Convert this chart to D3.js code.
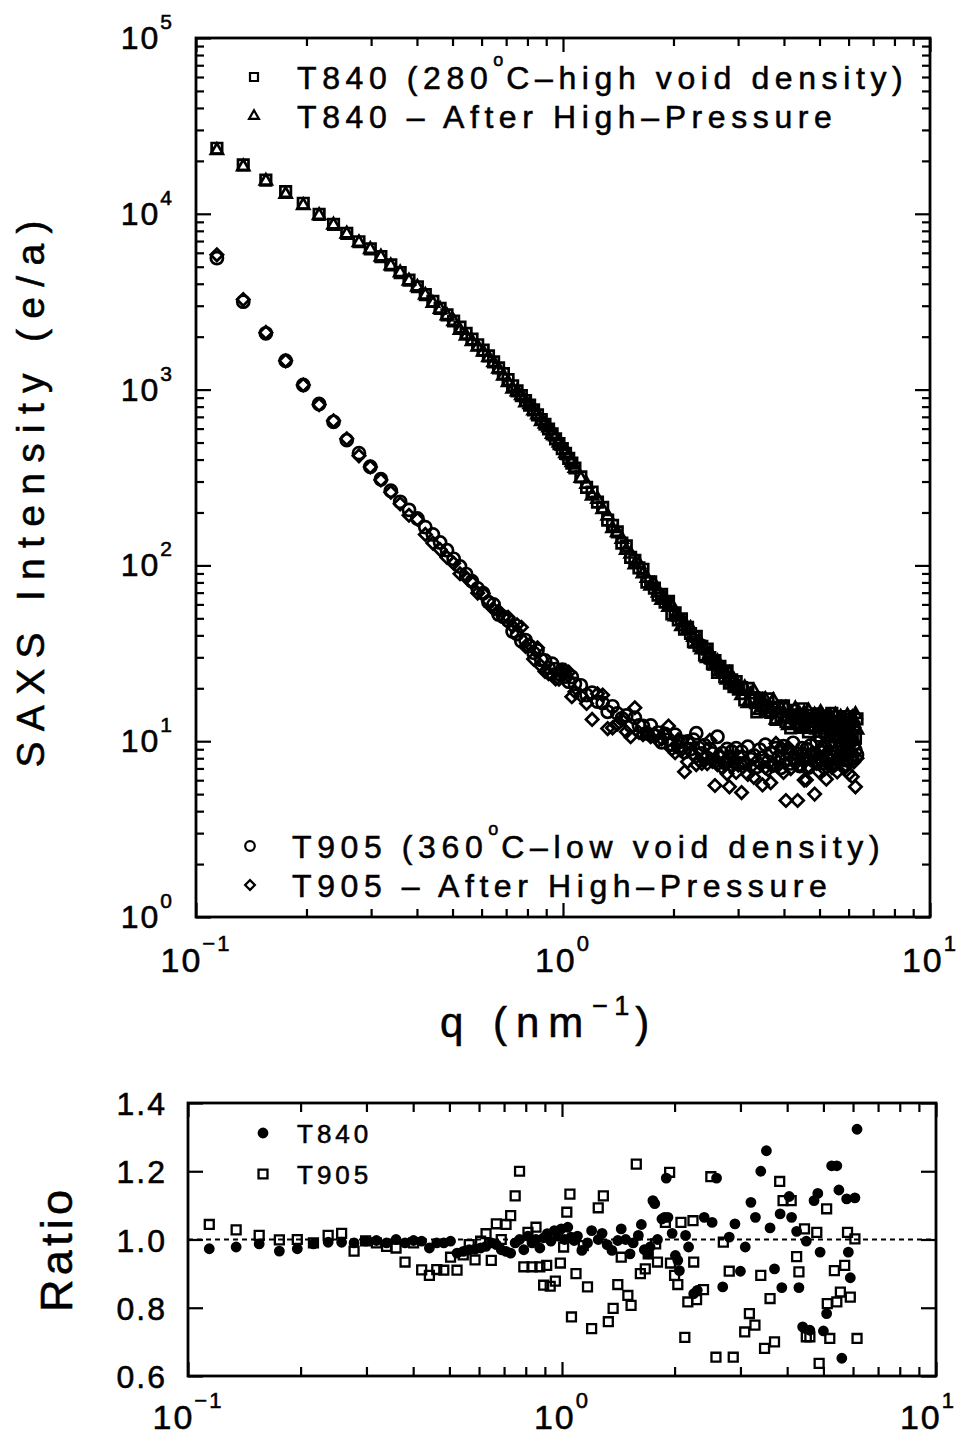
<!DOCTYPE html>
<html><head><meta charset="utf-8">
<script src="https://cdn.jsdelivr.net/npm/d3@7"></script>
<style>
body{margin:0;background:#fff}
svg{display:block;background:#fff}
text{font-family:"Liberation Sans",Arial,Helvetica,sans-serif;fill:#000;stroke:#000;stroke-width:0.55px}
</style>
</head><body>
<svg id="c" width="959" height="1436"></svg>
<script>
// ---------------- DATA ----------------
const qTop = [0.114,0.1345,0.155,0.1755,0.196,0.2165,0.237,0.2575,0.278,0.2985,
0.319,0.3395,0.36,0.3805,0.401,0.4215,0.442,0.4625,0.483,0.5035,
0.524,0.5445,0.565,0.5855,0.606,0.6265,0.647,0.6675,0.688,0.7085,
0.729,0.7495,0.77,0.7905,0.811,0.8315,0.852,0.8725,0.893,0.9135,
0.934,0.9545,0.975,0.9955,1.016,1.0365,1.057,1.0775,
1.1185,1.1595,1.2005,1.2415,1.2825,1.3235,1.3645,1.4055,1.4465,1.4875,
1.5285,1.5695,1.6105,1.6515,1.6925,1.7335,1.7745,1.8155,1.8565,1.8975,
1.9385,1.9795,2.0205,2.0615,2.1025,2.1435,2.1845,2.2255,2.2665,2.3075,
2.3485,2.3895,2.4305,2.4715,2.5125,2.5535,2.5945,2.6355,2.6765,2.7175,
2.7585,2.7995,2.8405,2.8815,2.9225,2.9635,3.0045,
3.066,3.1275,3.189,3.2505,3.312,3.3735,3.435,3.4965,3.558,3.6195,
3.681,3.7425,3.804,3.8655,3.927,3.9885,4.05,4.1115,4.173,4.2345,
4.296,4.3575,4.419,4.4805,4.542,4.6035,4.665,4.7265,4.788,4.8495,
4.911,4.9725,5.034,5.0955,5.157,5.2185,5.28,5.3415,5.403,5.4645,
5.526,5.5875,5.649,5.7105,5.772,5.8335,5.895,5.9565,6.018,6.0795,
6.141,6.2025,6.264,6.3255];

// T840 (280C - high void density), squares
const t840 = [23600,18970,15560,13370,11480,9931,8710,7745,6934,6310,5702,5117,4624,4198,3846,3467,3177,2897,2661,2455,2265,2089,1936,1799,1679,1556,1439,1330,1233,1140,1052,984,925,867,815,766,719,676,635,597,560,525,493,462,434,406,382,358,
319,278,261,229,214,181,169,155,134,129,111,107,96.7,95.1,80.4,80.5,74.3,67.7,68.5,61.8,62.5,52.9,53.8,48.9,49.7,43.4,44.4,41.0,36.8,39.5,34.9,34.6,30.9,33.4,29.9,27.6,28.7,24.6,26.7,24.7,23.2,25.1,21.4,22.3,20.4,21.8,19.8,
20.2,17.2,20.0,17.2,17.7,14.7,17.6,16.0,14.8,17.4,14.6,15.6,13.3,15.6,14.0,15.9,12.9,14.0,11.9,15.0,13.4,14.1,12.2,15.3,12.5,13.5,11.3,14.0,12.9,12.0,14.3,12.3,10.7,13.4,13.9,11.3,12.8,11.8,14.4,10.8,12.8,12.0,13.8,10.4,12.9,11.3,13.3,9.9,12.6,13.8,10.8,12.0,10.4,13.4];

// T840 - After High-Pressure, triangles
const t840HP = [22960,18550,15360,12910,11170,9802,8640,7683,6865,6278,5685,5066,4624,4156,3834,3450,3098,2868,2634,2443,2174,2016,1878,1749,1637,1525,1425,1310,1196,1100,1010,974,925,841,823,758,719,659,638,607,557,539,498,476,434,421,385,357,
313,290,248,238,208,191,162,154,141,122,116,101,101.6,89.7,84.6,76.5,78.0,69.8,63.3,64.3,57.8,59.0,51.1,50.9,44.9,47.0,42.7,43.9,39.1,35.8,37.4,33.2,33.5,29.6,31.7,29.0,26.8,28.4,24.9,25.7,24.4,22.3,24.3,21.7,22.3,20.0,20.6,
18.2,20.2,16.4,18.4,19.3,16.2,15.0,17.0,17.3,14.6,15.2,17.1,13.2,15.0,15.4,13.4,15.4,12.3,14.4,13.3,15.3,12.5,14.2,11.7,14.5,13.1,14.9,12.0,13.4,14.1,11.6,13.6,14.6,12.0,11.1,13.8,12.9,13.9,11.2,13.0,14.1,11.7,10.6,13.7,12.1,13.1,11.4,14.0,12.2,10.9,13.6,12.6,14.2,11.6];

// T905 (360C - low void density), circles
const t905 = [5590,3162,2089,1459,1062,828,656,516,435,364,309,266,230,207,185,165,150,135,122,109,98.6,89.3,81.3,74.0,69.5,61.7,60.0,52.6,50.9,48.6,42.1,40.7,37.1,37.6,34.8,31.8,32.8,29.0,28.8,26.2,27.6,25.7,24.2,25.5,23.3,21.8,23.2,21.2,
20.8,18.3,18.9,16.8,16.5,14.7,15.8,14.4,13.5,14.0,12.3,13.6,12.3,12.2,11.1,12.3,10.8,11.2,9.86,11.0,10.2,9.6,10.9,9.24,9.95,8.68,9.96,9.0,10.2,11.1,9.14,8.53,9.49,8.04,9.02,8.53,7.73,10.6,8.07,8.56,7.54,9.03,8.09,8.74,7.65,9.13,8.13,
8.72,7.47,9.30,7.89,8.30,7.14,8.96,8.05,9.55,7.64,8.55,7.30,9.13,8.13,7.06,9.38,7.80,8.72,7.47,9.79,7.97,8.47,7.22,9.13,7.81,9.01,7.08,9.46,8.38,7.72,9.85,8.08,8.86,7.52,9.32,8.31,9.70,7.74,9.13,7.42,9.95,8.67,7.99,9.58,8.29,10.5,7.81,9.23,8.55,9.89,7.97,9.58,8.89,8.37];

// T905 - After High-Pressure, diamonds
const t905HP = [5840,3251,2114,1458,1062,820,664,525,420,363,306,261,224,193,183,150,134,123,111,103,89.7,85.3,80.1,69.6,69.2,62.7,56.3,55.0,50.9,50.7,45.0,45.9,44.5,34.6,35.5,29.3,34.0,26.7,24.9,24.2,23.8,22.6,22.5,24.9,25.2,24.7,17.9,19.1,
18.2,16.4,13.3,18.6,18.3,11.8,11.9,12.5,13.2,11.3,10.6,15.5,11.2,10.9,11.2,10.6,11.0,10.1,10.3,10.9,12.2,9.0,8.6,10.2,8.9,6.7,7.63,9.68,8.44,7.36,7.81,7.47,8.01,7.44,10.1,7.68,5.6,7.35,8.33,7.05,7.63,6.52,5.5,7.16,7.65,6.64,7.30,
5.1,7.47,6.47,7.14,6.23,7.72,7.47,5.64,7.06,6.89,5.81,7.30,9.71,7.64,9.21,6.64,4.6,9.21,6.97,7.89,7.47,4.6,7.30,8.55,6.01,6.02,7.17,7.86,8.63,5.0,7.47,6.72,7.84,9.31,6.93,6.08,7.38,7.83,7.06,8.20,7.35,6.68,7.73,8.01,8.90,7.0,7.28,7.74,6.52,8.83,6.28,7.63,5.5,8.01];

// Ratio panel: T840 (filled dots)
const qRatio840 = [0.114,0.1345,0.155,0.1755,0.196,0.2165,0.237,0.2575,0.278,0.2985,
0.319,0.3395,0.36,0.3805,0.401,0.4215,0.442,0.4625,0.483,0.5035,
0.524,0.5445,0.565,0.5855,0.606,0.6265,0.647,0.6675,0.688,0.7085,
0.729,0.7495,0.77,0.7905,0.811,0.8315,0.852,0.8725,0.893,0.9135,
0.934,0.9545,0.975,0.9955,1.016,1.0365,1.057,1.0775,
1.1,1.13,1.17,1.2,1.25,1.28,1.32,1.36,1.41,1.44,1.48,1.52,1.55,1.6,1.63,1.66,1.7,1.72,1.75,1.77,
1.8,1.85,1.88,1.9,1.92,1.97,2.01,2.04,2.06,2.14,2.18,2.25,2.3,2.4,2.52,2.59,2.69,2.8,2.9,3.0,
3.09,3.2,3.29,3.4,3.52,3.6,3.7,3.83,3.87,4.05,4.11,4.24,4.3,4.4,4.5,4.6,4.72,4.83,4.9,5.0,
5.1,5.26,5.43,5.5,5.6,5.77,5.83,5.9,6.07,6.15];
const ratio840 = [0.973,0.978,0.987,0.966,0.973,0.987,0.992,0.992,0.99,0.995,0.997,0.99,1.0,0.99,0.997,0.995,0.975,0.99,0.99,0.995,
0.96,0.965,0.97,0.972,0.975,0.98,0.99,0.985,0.97,0.965,0.96,0.99,1.0,0.97,1.01,0.99,1.0,0.975,1.005,1.017,0.995,1.026,1.01,1.031,1.0,1.036,1.007,0.997,
1.01,0.968,0.99,1.026,1.0,1.018,0.985,0.968,0.997,1.031,1.0,0.958,0.99,1.012,1.044,0.97,0.958,0.978,1.114,1.105,
1.0,1.06,1.065,1.18,1.065,1.018,0.953,0.939,0.909,1.012,0.978,0.841,0.851,1.065,1.05,1.18,0.861,1.007,1.046,0.907,
0.978,1.109,1.065,1.2,1.26,1.034,0.914,1.075,0.859,1.126,1.065,1.024,0.859,0.744,0.995,0.734,1.114,1.135,0.963,0.732,
0.783,1.216,1.216,1.145,0.652,1.119,0.963,0.888,1.122,1.323];

// Ratio panel: T905 (open squares)
const qRatio905 = [0.114,0.1345,0.155,0.1755,0.196,0.2165,0.237,0.2575,0.278,0.2985,
0.319,0.3395,0.36,0.3805,0.401,0.4215,0.442,0.4625,0.483,0.5035,
0.524,0.5445,0.565,0.5855,0.606,0.6265,0.647,0.6675,0.688,0.7085,
0.729,0.7495,0.77,0.7905,0.811,0.8315,0.852,0.8725,0.893,
0.91,0.93,0.96,0.99,1.01,1.03,1.05,1.06,1.09,1.14,1.17,1.2,1.25,1.29,1.33,1.37,1.41,1.44,1.5,1.53,
1.58,1.62,1.67,1.7,1.78,1.8,1.89,1.94,1.95,2.0,2.04,2.08,2.13,2.17,2.24,2.25,2.29,2.39,2.5,2.58,
2.7,2.8,2.87,3.08,3.17,3.28,3.4,3.48,3.6,3.7,3.82,3.9,4.1,4.24,4.3,4.45,4.5,4.6,4.8,4.87,
5.1,5.12,5.2,5.35,5.43,5.55,5.7,5.8,5.9,6.07,6.15];
const ratio905 = [1.044,1.028,1.012,0.999,1.0,0.99,1.012,1.018,0.966,0.996,0.99,0.98,0.975,0.934,0.99,0.911,0.895,0.912,0.91,0.948,
0.91,0.955,0.985,0.94,0.995,1.017,0.939,1.046,1.0,1.044,1.07,1.128,1.2,0.92,1.021,0.92,1.036,0.92,0.866,
0.924,0.863,0.878,0.931,0.978,1.08,1.133,0.773,0.9,0.982,0.861,0.739,1.093,1.128,0.759,0.798,0.868,0.948,0.836,0.807,
1.221,0.9,0.914,0.958,0.987,0.934,1.05,1.197,0.931,0.895,0.868,1.05,0.713,0.817,1.055,0.934,0.824,0.853,1.184,0.655,
0.992,0.907,0.655,0.729,0.783,0.749,0.895,0.681,0.827,0.7,1.17,1.114,1.114,0.95,0.905,1.031,0.715,0.715,1.021,0.637,
1.09,0.812,0.71,0.909,0.817,0.846,0.924,1.021,0.831,1.002,0.71];

// tick labels / legends
const topYExps = ["0","1","2","3","4","5"];
const xExps = ["−1","0","1"];
const ratioTicks = [0.6,0.8,1.0,1.2,1.4];
const ratioTickLabels = ["0.6","0.8","1.0","1.2","1.4"];
const legendTop = [["T840 (280","o","C–high void density)"],["T840 – After High–Pressure"]];
const legendBot = [["T905 (360","o","C–low void density)"],["T905 – After High–Pressure"]];
const ratioLegend = ["T840","T905"];

// ---------------- DRAW ----------------
const svg = d3.select("#c");
const INK = "#000";

const xT = d3.scaleLog().domain([0.1,10]).range([196,930]);
const yT = d3.scaleLog().domain([1,1e5]).range([917,38]);
const xB = d3.scaleLog().domain([0.1,10]).range([188,936]);
const yB = d3.scaleLinear().domain([0.6,1.4]).range([1376,1103]);

const decadeMinors = (lo,hi) => { const a=[]; for(let e=lo;e<hi;e++) for(let m=2;m<=9;m++) a.push(m*Math.pow(10,e)); return a; };

function tickAxis(gen, tx, values, size){
  const g = svg.append("g").attr("transform",tx)
    .call(gen.tickValues(values).tickSize(size).tickSizeOuter(0).tickFormat(""));
  g.select(".domain").remove();
  g.selectAll("line").attr("stroke",INK).attr("stroke-width",2.2);
}

function frame(xs, ys){
  const [x0,x1]=xs.range(), [y0,y1]=ys.range();
  svg.append("rect").attr("x",x0).attr("y",Math.min(y0,y1)).attr("width",x1-x0).attr("height",Math.abs(y0-y1))
    .attr("fill","none").attr("stroke",INK).attr("stroke-width",2.8);
}

// ----- top panel axes -----
const xMaj=[0.1,1,10], xMin=decadeMinors(-1,1);
const yMaj=topYExps.map(e=>Math.pow(10,+e)), yMin=decadeMinors(0,5);
tickAxis(d3.axisBottom(xT),"translate(0,917)",xMaj,-14);
tickAxis(d3.axisBottom(xT),"translate(0,917)",xMin,-8);
tickAxis(d3.axisTop(xT),"translate(0,38)",xMaj,-14);
tickAxis(d3.axisTop(xT),"translate(0,38)",xMin,-8);
tickAxis(d3.axisLeft(yT),"translate(196,0)",yMaj,-15);
tickAxis(d3.axisLeft(yT),"translate(196,0)",yMin,-8);
tickAxis(d3.axisRight(yT),"translate(930,0)",yMaj,-15);
tickAxis(d3.axisRight(yT),"translate(930,0)",yMin,-8);
frame(xT,yT);

function powLabel(x,y,exp,anchor,fs,sfs,sdy,dx){
  const t=svg.append("text").attr("x",x).attr("y",y).attr("dx",dx||0).attr("text-anchor",anchor)
    .attr("font-size",fs).attr("letter-spacing",2);
  t.append("tspan").text("10");
  t.append("tspan").attr("font-size",sfs).attr("dy",sdy).text(exp);
}
topYExps.forEach(e=>powLabel(174, yT(Math.pow(10,+e))+11, e, "end", 32, 21, -20));
xExps.forEach(e=>powLabel(xT(Math.pow(10,+e.replace("−","-"))), 972, e, "middle", 34, 22, -21));

// axis titles
svg.append("text").attr("transform","translate(44,494) rotate(-90)").attr("text-anchor","middle")
  .attr("font-size",39).attr("textLength",547).attr("lengthAdjust","spacing").text("SAXS Intensity (e/a)");
{
  const t=svg.append("text").attr("x",440).attr("y",1037).attr("font-size",42).attr("letter-spacing",9);
  t.append("tspan").text("q (nm");
  t.append("tspan").attr("font-size",27).attr("dy",-22).attr("letter-spacing",6).text("−1");
  t.append("tspan").attr("dy",22).text(")");
}

// ----- top panel data -----
const S = {
  square: d3.symbol().type(d3.symbolSquare).size(110)(),
  triangle: d3.symbol().type(d3.symbolTriangle).size(62)(),
  circle: d3.symbol().type(d3.symbolCircle).size(115)(),
  diamond: d3.symbol().type(d3.symbolSquare).size(76)()
};
function drawSeries(q,v,key,rot){
  svg.append("g").selectAll("path").data(d3.zip(q,v)).join("path")
    .attr("d",S[key])
    .attr("transform",d=>`translate(${xT(d[0])},${yT(d[1])})${rot?" rotate(45)":""}`)
    .attr("fill","none").attr("stroke",INK).attr("stroke-width",2.7);
}
drawSeries(qTop,t840,"square",false);
drawSeries(qTop,t840HP,"triangle",false);
drawSeries(qTop,t905,"circle",false);
drawSeries(qTop,t905HP,"diamond",true);

// legends (top panel)
const LS = {
  square: d3.symbol().type(d3.symbolSquare).size(64)(),
  triangle: d3.symbol().type(d3.symbolTriangle).size(42)(),
  circle: d3.symbol().type(d3.symbolCircle).size(72)(),
  diamond: d3.symbol().type(d3.symbolSquare).size(48)()
};
function legendEntry(mx,tx,base,key,rot,parts){
  svg.append("path").attr("d",LS[key]).attr("transform",`translate(${mx},${base-12})${rot?" rotate(45)":""}`)
    .attr("fill","none").attr("stroke",INK).attr("stroke-width",2.2);
  const t=svg.append("text").attr("x",tx).attr("y",base).attr("font-size",32).attr("letter-spacing",5.6);
  t.append("tspan").text(parts[0]);
  if(parts.length>1){
    t.append("tspan").attr("font-size",18).attr("dy",-23).attr("letter-spacing",3).text(parts[1]);
    t.append("tspan").attr("dy",23).text(parts[2]);
  }
}
legendEntry(254,297,89,"square",false,legendTop[0]);
legendEntry(254,297,128,"triangle",false,legendTop[1]);
legendEntry(250,292,858,"circle",false,legendBot[0]);
legendEntry(250,292,897,"diamond",true,legendBot[1]);

// ----- ratio panel -----
const bMin=decadeMinors(-1,1);
tickAxis(d3.axisBottom(xB),"translate(0,1376)",xMaj,-14);
tickAxis(d3.axisBottom(xB),"translate(0,1376)",bMin,-9);
tickAxis(d3.axisTop(xB),"translate(0,1103)",xMaj,-14);
tickAxis(d3.axisTop(xB),"translate(0,1103)",bMin,-9);
tickAxis(d3.axisLeft(yB),"translate(188,0)",ratioTicks,-15);
tickAxis(d3.axisRight(yB),"translate(936,0)",ratioTicks,-15);

// reference line at 1.0
svg.append("line").attr("x1",xB.range()[0]).attr("x2",xB.range()[1]).attr("y1",yB(1)).attr("y2",yB(1))
  .attr("stroke",INK).attr("stroke-width",2).attr("stroke-dasharray","5,4");
frame(xB,yB);

ratioTicks.forEach((v,i)=>svg.append("text").attr("x",167).attr("y",yB(v)+12).attr("text-anchor","end")
  .attr("font-size",32).attr("letter-spacing",2).text(ratioTickLabels[i]));
xExps.forEach((e,i)=>powLabel(xB(Math.pow(10,+e.replace("−","-"))), 1429, e, "middle", 34, 22, -21, i===2?-8:0));

svg.append("text").attr("transform","translate(72,1251) rotate(-90)").attr("text-anchor","middle")
  .attr("font-size",45).attr("textLength",122).attr("lengthAdjust","spacing").text("Ratio");

const RS = {
  dot: d3.symbol().type(d3.symbolCircle).size(92)(),
  square: d3.symbol().type(d3.symbolSquare).size(80)()
};
svg.append("g").selectAll("path").data(d3.zip(qRatio840,ratio840)).join("path")
  .attr("d",RS.dot).attr("transform",d=>`translate(${xB(d[0])},${yB(d[1])})`).attr("fill",INK);
svg.append("g").selectAll("path").data(d3.zip(qRatio905,ratio905)).join("path")
  .attr("d",RS.square).attr("transform",d=>`translate(${xB(d[0])},${yB(d[1])})`)
  .attr("fill","none").attr("stroke",INK).attr("stroke-width",2.3);

// ratio legend
svg.append("path").attr("d",RS.dot).attr("transform","translate(263,1133)").attr("fill",INK);
svg.append("text").attr("x",297).attr("y",1143).attr("font-size",26).attr("letter-spacing",4).text(ratioLegend[0]);
svg.append("path").attr("d",RS.square).attr("transform","translate(263,1174)").attr("fill","none").attr("stroke",INK).attr("stroke-width",2.3);
svg.append("text").attr("x",297).attr("y",1184).attr("font-size",26).attr("letter-spacing",4).text(ratioLegend[1]);
</script>
</body></html>
